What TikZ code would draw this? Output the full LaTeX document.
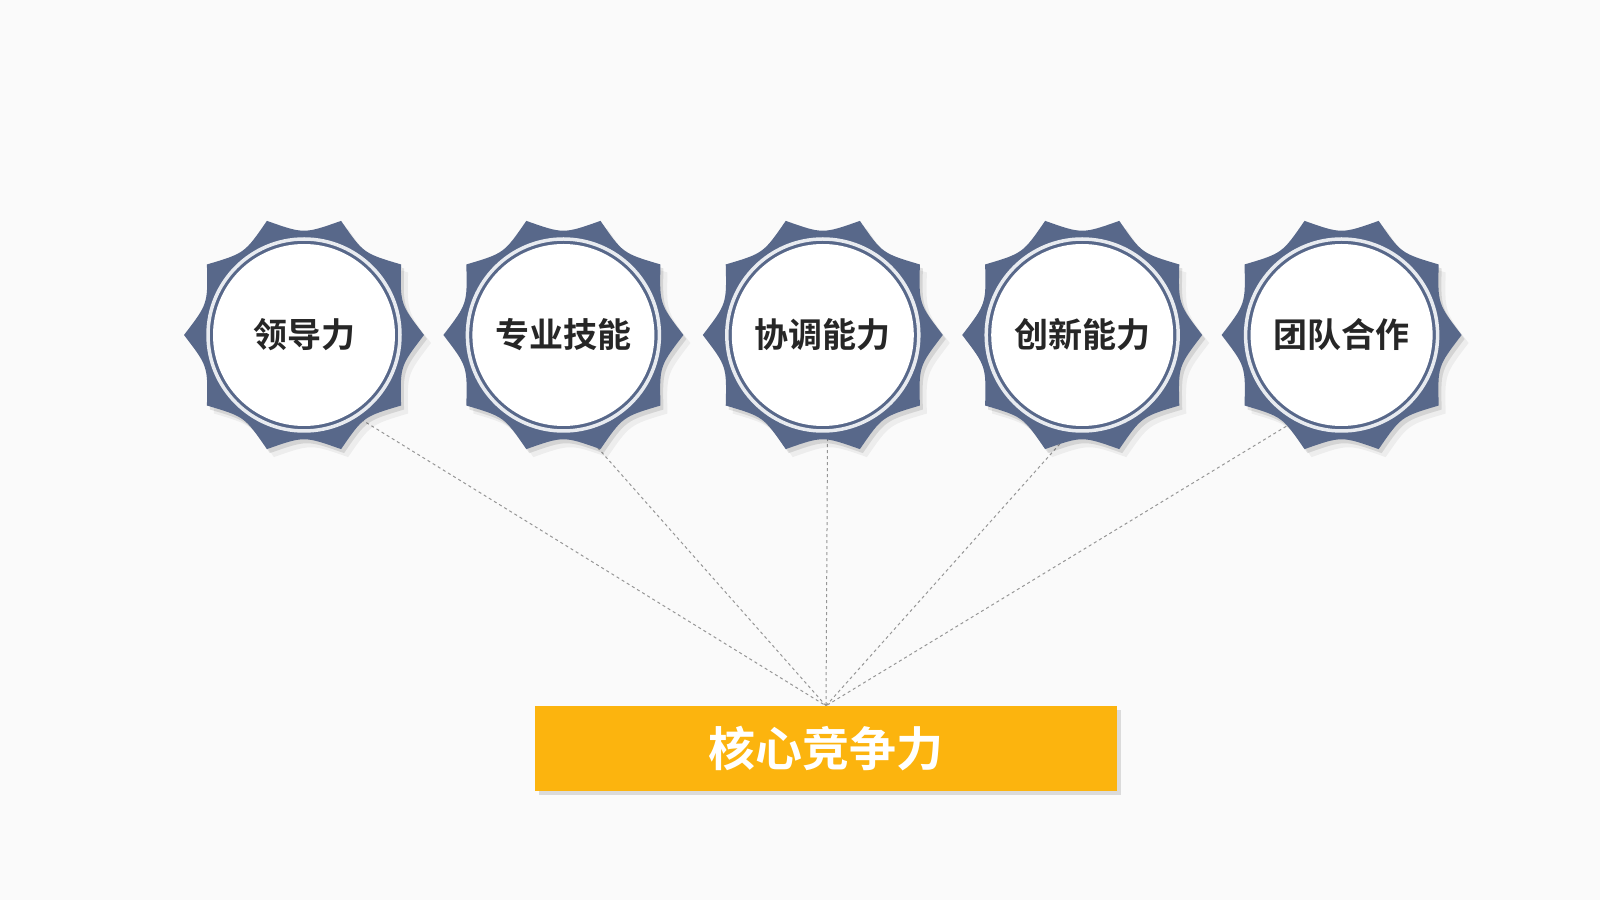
\documentclass[tikz,border=0pt]{standalone}
\usepackage{fontspec}
\newfontfamily\cjk{Noto Sans CJK SC}[BoldFont={Noto Sans CJK SC Bold}]
\usetikzlibrary{positioning,backgrounds}
\definecolor{pagebg}{RGB}{250,250,250}
\definecolor{gearblue}{RGB}{88,104,138}
\definecolor{ringlight}{RGB}{232,235,240}
\definecolor{coreyellow}{RGB}{252,180,14}
\definecolor{linegray}{RGB}{150,150,150}
\definecolor{textdark}{RGB}{38,38,38}
\tikzset{
  skill/.style={circle,fill=white,minimum size=182pt,inner sep=0pt,
    font=\cjk\bfseries\fontsize{34}{34}\selectfont,text=textdark},
  core/.style={rectangle,fill=coreyellow,minimum width=582pt,minimum height=85pt,
    inner sep=0pt,font=\cjk\bfseries\fontsize{47}{47}\selectfont,text=white},
  link/.style={draw=linegray,line width=1pt,dash pattern=on 3pt off 3pt},
}
% gear outline round the origin
\newcommand\gearpath{(0:120) \foreach \a in {0,36,...,324}{ .. controls (\a+18:101) .. (\a+36:120)} -- cycle}
% gear with its shadow and ring round a node centre
\newcommand\gearat[1]{%
  \begin{scope}[shift={(#1)}]
    \begin{scope}[shift={(7,-8)}]\fill[black,opacity=.05] \gearpath;\end{scope}
    \begin{scope}[shift={(3,-4)}]\fill[black,opacity=.10] \gearpath;\end{scope}
    \fill[gearblue] \gearpath;
    \draw[ringlight,line width=3.5pt] (0,0) circle (96);
  \end{scope}}

\begin{document}
\begin{tikzpicture}[x=1pt,y=1pt]
\useasboundingbox (0,0) rectangle (1600,900);
\node [skill] (g1) at (304,565) {领导力};
\node [skill,right=77pt of g1] (g2) {专业技能};
\node [skill,right=77pt of g2] (g3) {协调能力};
\node [skill,right=77pt of g3] (g4) {创新能力};
\node [skill,right=77pt of g4] (g5) {团队合作};
\node [core] (core) at (826,151.5) {核心竞争力};
\begin{scope}[on background layer]
  \fill[pagebg] (0,0) rectangle (1600,900);
  \path [link] (g1.-59) -- (core.north)
               (g2.-81) -- (core.north)
               (g3.-87) -- (core.north)
               (g4.-94) -- (core.north)
               (g5.-116) -- (core.north);
  \foreach \g in {g1,g2,g3,g4,g5} {\gearat{\g}}
  \fill[black,opacity=.12] ([xshift=4pt,yshift=-4pt]core.south west) rectangle ([xshift=4pt,yshift=-4pt]core.north east);
\end{scope}
\end{tikzpicture}
\end{document}
